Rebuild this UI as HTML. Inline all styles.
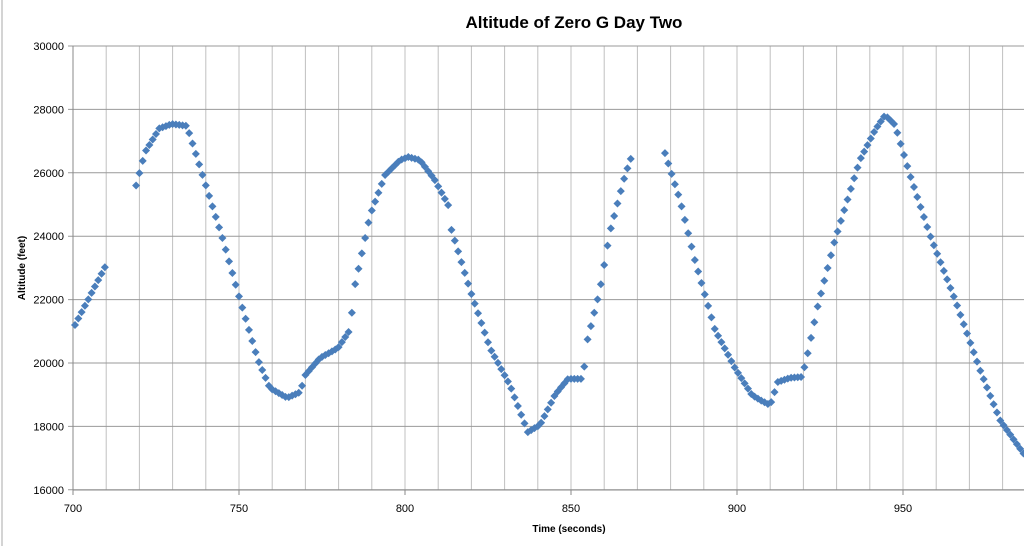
<!DOCTYPE html>
<html><head><meta charset="utf-8"><style>
body{margin:0;background:#fff;width:1024px;height:546px;overflow:hidden}
svg{font-family:"Liberation Sans",sans-serif}
</style></head><body>
<svg id="s" width="1024" height="546" xmlns="http://www.w3.org/2000/svg">
<rect x="0" y="0" width="1024" height="546" fill="#fff"/>
<line x1="2" y1="0" x2="2" y2="546" stroke="#aaa"/>
<g id="grid"></g>
<text x="574" y="28" text-anchor="middle" font-size="17" font-weight="bold">Altitude of Zero G Day Two</text>
<text x="569" y="532" text-anchor="middle" font-size="10" font-weight="bold">Time (seconds)</text>
<text transform="translate(25,268) rotate(-90)" text-anchor="middle" font-size="10" font-weight="bold">Altitude (feet)</text>
<g id="pts" fill="#4a7ebb"></g>
</svg>
<script>
var X=function(t){return 73+(t-700)*3.32},Y=function(a){return 46+(30000-a)*63.4/2000};
var g=document.getElementById('grid'),h='';
for(var t=700;t<=990;t+=10){var x=X(t);h+='<line x1="'+x+'" y1="46" x2="'+x+'" y2="490" stroke="#c0c0c0"/>';
if(t%50==0)h+='<line x1="'+x+'" y1="490" x2="'+x+'" y2="495" stroke="#888"/><text x="'+x+'" y="512" text-anchor="middle" font-size="11">'+t+'</text>';}
for(var a=16000;a<=30000;a+=2000){var y=Y(a);h+='<line x1="68" y1="'+y+'" x2="1024" y2="'+y+'" stroke="#999"/><text x="64" y="'+(y+4)+'" text-anchor="end" font-size="11">'+a+'</text>';}
h+='<line x1="73" y1="46" x2="73" y2="490" stroke="#888"/><line x1="73" y1="490" x2="1024" y2="490" stroke="#888"/>';
g.innerHTML=h;
var segs=[
[[700.6,21200],[710,23100]],
[[719,25600],[721.7,26650],[726,27400],[729.8,27540],[734.3,27480],[737.6,26400],[744.9,23980],[750.3,21990],[755.7,20100],[759.3,19210],[764.5,18900],[768.4,19080],[770,19620],[774.4,20160],[779.8,20470],[783.4,21040],[785,22490],[789.5,24670],[794,25930],[798.5,26400],[801,26500],[804.5,26400],[809,25770],[813,24980],[814,24200],[819.6,22300],[825.6,20470],[831.6,19300],[837,17820],[840.7,18050],[845.2,19000],[849.1,19500],[853.6,19500],[854.8,20660],[858.7,22300],[861.7,24130],[866.3,25930],[868.7,26650]],
[[878.3,26620],[882.8,25150],[887.3,23250],[893.4,21040],[899.4,19840],[904.5,18990],[907,18830],[910,18670],[912.3,19400],[915.9,19530],[919.6,19560],[921.4,20350],[924.4,21830],[929.5,23880],[937,26400],[941.6,27350],[944.6,27820],[947.6,27510],[952.1,25930],[958.1,24040],[965.7,21990],[973.2,19780],[979.2,18200],[986.6,17100]]];
var p='';
segs.forEach(function(s){for(var t=s[0][0];t<=s[s.length-1][0]+0.01;t+=1.0){
for(var i=0;i<s.length-1&&s[i+1][0]<t;i++);var b=s[Math.min(i+1,s.length-1)],a0=s[i];
var f=b[0]==a0[0]?0:(t-a0[0])/(b[0]-a0[0]);var v=a0[1]+f*(b[1]-a0[1]);var x=X(t),y=Y(v);
p+='<path d="M'+x+' '+(y-4)+'L'+(x+4)+' '+y+'L'+x+' '+(y+4)+'L'+(x-4)+' '+y+'Z"/>';}});
document.getElementById('pts').innerHTML=p;
</script>
</body></html>
